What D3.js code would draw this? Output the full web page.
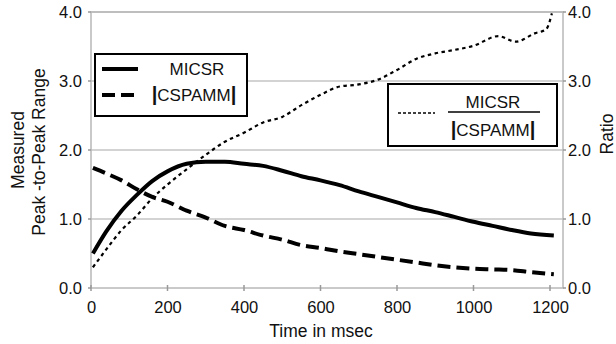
<!DOCTYPE html>
<html>
<head>
<meta charset="utf-8">
<script src="https://cdn.jsdelivr.net/npm/d3@7"></script>
<style>
  body { margin: 0; background: #fff; }
  text { font-family: "Liberation Sans", Arial, sans-serif; fill: #111; }
</style>
</head>
<body>
<div id="chart"></div>
<script>
// data
const times = [5, 40, 80, 120, 160, 200, 250, 300, 350, 400, 450, 500, 550, 600,
  650, 700, 750, 800, 850, 900, 950, 1000, 1050, 1100, 1150, 1210];
const micsr = [0.50, 0.82, 1.12, 1.35, 1.55, 1.69, 1.80, 1.83, 1.83, 1.80, 1.77, 1.70, 1.62, 1.56,
  1.49, 1.40, 1.32, 1.24, 1.16, 1.10, 1.03, 0.96, 0.90, 0.84, 0.79, 0.76];
const cspamm = [1.74, 1.66, 1.56, 1.43, 1.32, 1.25, 1.12, 1.02, 0.90, 0.84, 0.76, 0.70, 0.62, 0.58,
  0.53, 0.49, 0.45, 0.41, 0.37, 0.33, 0.30, 0.28, 0.27, 0.26, 0.23, 0.20];
const ratioTimes = [5, 40, 80, 120, 160, 200, 250, 300, 350, 400, 450, 500, 550, 600, 650, 700,
  750, 800, 850, 900, 950, 1000, 1065, 1110, 1160, 1190, 1205];
const ratio = [0.30, 0.56, 0.84, 1.05, 1.30, 1.50, 1.72, 1.93, 2.12, 2.25, 2.40, 2.48, 2.65, 2.80, 2.92, 2.95,
  3.02, 3.16, 3.32, 3.40, 3.45, 3.51, 3.65, 3.57, 3.69, 3.75, 3.98];
const xTicks = [0, 200, 400, 600, 800, 1000, 1200];
const yTicks = [0, 1, 2, 3, 4];

// config
const width = 616;
const height = 344;
const pLeft = 91, pRight = 563, pTop = 12, pBottom = 288;
const tickFont = 16.5, titleFont = 17.5, legendFont = 17;

const x = d3.scaleLinear().domain([0, 1234]).range([pLeft, pRight]);
const y = d3.scaleLinear().domain([0, 4]).range([pBottom, pTop]);

const svg = d3.select("#chart").append("svg")
  .attr("width", width)
  .attr("height", height);

// grid + frame
svg.append("g").selectAll("line")
  .data(yTicks.slice(1))
  .enter().append("line")
  .attr("x1", pLeft).attr("x2", pRight)
  .attr("y1", d => y(d)).attr("y2", d => y(d))
  .attr("stroke", "#c4c4c4").attr("stroke-width", 1.5);

svg.append("rect")
  .attr("x", pLeft).attr("y", pTop)
  .attr("width", pRight - pLeft).attr("height", pBottom - pTop)
  .attr("fill", "none").attr("stroke", "#b8b8b8").attr("stroke-width", 1.5);

// axes
const xAxis = svg.append("g")
  .attr("transform", `translate(0,${pBottom})`)
  .call(d3.axisBottom(x).tickValues(xTicks).tickSize(0).tickPadding(13).tickFormat(d3.format("d")));
xAxis.select(".domain").remove();
xAxis.selectAll("text").attr("font-size", tickFont);
svg.append("g").selectAll("line")
  .data(xTicks)
  .enter().append("line")
  .attr("x1", d => x(d)).attr("x2", d => x(d))
  .attr("y1", pBottom - 3).attr("y2", pBottom + 3)
  .attr("stroke", "#999").attr("stroke-width", 1.5);

const yLeft = svg.append("g")
  .attr("transform", `translate(${pLeft},0)`)
  .call(d3.axisLeft(y).tickValues(yTicks).tickSize(0).tickPadding(9).tickFormat(d3.format(".1f")));
yLeft.select(".domain").remove();
yLeft.selectAll("text").attr("font-size", tickFont);
const yRight = svg.append("g")
  .attr("transform", `translate(${pRight},0)`)
  .call(d3.axisRight(y).tickValues(yTicks).tickSize(0).tickPadding(5).tickFormat(d3.format(".1f")));
yRight.select(".domain").remove();
yRight.selectAll("text").attr("font-size", tickFont);
svg.append("g").selectAll("line")
  .data(yTicks)
  .enter().append("line")
  .attr("x1", pLeft - 3).attr("x2", pLeft)
  .attr("y1", d => y(d)).attr("y2", d => y(d))
  .attr("stroke", "#999").attr("stroke-width", 1.5);
svg.append("g").selectAll("line")
  .data(yTicks)
  .enter().append("line")
  .attr("x1", pRight).attr("x2", pRight + 3)
  .attr("y1", d => y(d)).attr("y2", d => y(d))
  .attr("stroke", "#999").attr("stroke-width", 1.5);

// titles
svg.append("text")
  .attr("x", 321).attr("y", 337)
  .attr("text-anchor", "middle").attr("font-size", titleFont)
  .text("Time in msec");
svg.append("text")
  .attr("transform", "translate(24,150) rotate(-90)")
  .attr("text-anchor", "middle").attr("font-size", titleFont)
  .text("Measured");
svg.append("text")
  .attr("transform", "translate(45,152) rotate(-90)")
  .attr("text-anchor", "middle").attr("font-size", titleFont)
  .text("Peak -to-Peak Range");
svg.append("text")
  .attr("transform", "translate(613,134) rotate(-90)")
  .attr("text-anchor", "middle").attr("font-size", titleFont)
  .text("Ratio");

// lines
const line = d3.line().x(d => x(d[0])).y(d => y(d[1])).curve(d3.curveMonotoneX);
const series = [
  {pts: d3.zip(times, micsr), w: 4, dash: null},
  {pts: d3.zip(times, cspamm), w: 4, dash: "13,6"},
  {pts: d3.zip(ratioTimes, ratio), w: 2.2, dash: "3.5,3.5"}
];
svg.append("g").selectAll("path")
  .data(series)
  .enter().append("path")
  .attr("d", d => line(d.pts))
  .attr("fill", "none")
  .attr("stroke", "#000")
  .attr("stroke-width", d => d.w)
  .attr("stroke-dasharray", d => d.dash);

// legend 1
const lg1 = svg.append("g");
lg1.append("rect")
  .attr("x", 95).attr("y", 54).attr("width", 152).attr("height", 62)
  .attr("fill", "#fff").attr("stroke", "#000").attr("stroke-width", 2);
lg1.append("line").attr("x1", 102).attr("x2", 138).attr("y1", 69).attr("y2", 69)
  .attr("stroke", "#000").attr("stroke-width", 4);
lg1.append("line").attr("x1", 102).attr("x2", 138).attr("y1", 95).attr("y2", 95)
  .attr("stroke", "#000").attr("stroke-width", 4).attr("stroke-dasharray", "13,6");
lg1.append("text").attr("x", 197).attr("y", 75).attr("text-anchor", "middle")
  .attr("font-size", legendFont).text("MICSR");
const t1 = lg1.append("text").attr("x", 194).attr("y", 101).attr("text-anchor", "middle")
  .attr("font-size", legendFont);
t1.append("tspan").attr("font-weight", "bold").attr("font-size", 20).text("|");
t1.append("tspan").text("CSPAMM");
t1.append("tspan").attr("font-weight", "bold").attr("font-size", 20).text("|");

// legend 2
const lg2 = svg.append("g");
lg2.append("rect")
  .attr("x", 388).attr("y", 84).attr("width", 169).attr("height", 62)
  .attr("fill", "#fff").attr("stroke", "#000").attr("stroke-width", 2);
lg2.append("line").attr("x1", 398).attr("x2", 435).attr("y1", 113).attr("y2", 113)
  .attr("stroke", "#000").attr("stroke-width", 1.5).attr("stroke-dasharray", "3,2");
lg2.append("line").attr("x1", 448).attr("x2", 540).attr("y1", 112).attr("y2", 112)
  .attr("stroke", "#000").attr("stroke-width", 1.5);
lg2.append("text").attr("x", 493).attr("y", 108).attr("text-anchor", "middle")
  .attr("font-size", legendFont).text("MICSR");
const t2 = lg2.append("text").attr("x", 493).attr("y", 136).attr("text-anchor", "middle")
  .attr("font-size", legendFont);
t2.append("tspan").attr("font-weight", "bold").attr("font-size", 20).text("|");
t2.append("tspan").text("CSPAMM");
t2.append("tspan").attr("font-weight", "bold").attr("font-size", 20).text("|");
</script>
</body>
</html>
